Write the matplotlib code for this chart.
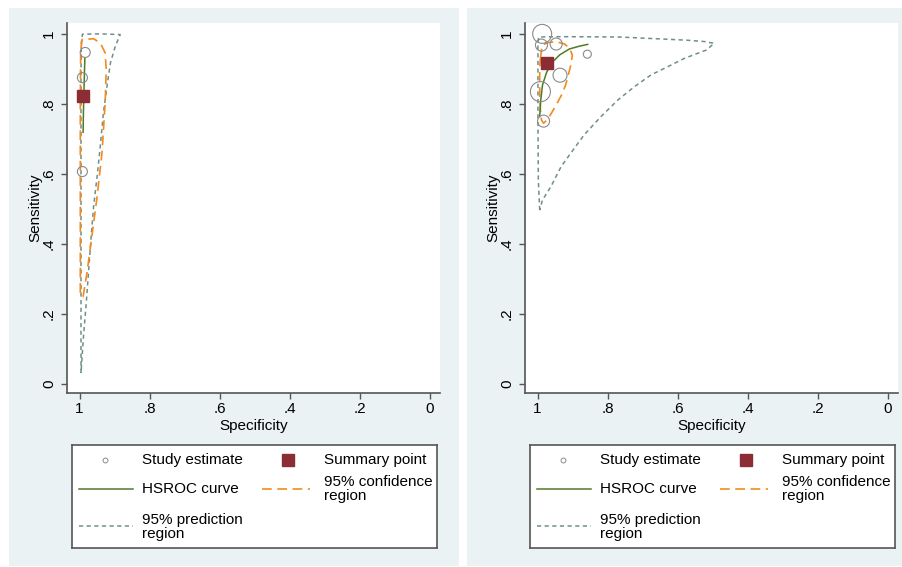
import matplotlib
matplotlib.use('Agg')
import matplotlib.pyplot as plt
from matplotlib.patches import Rectangle

plt.rcParams['font.family'] = ['Liberation Sans', 'DejaVu Sans']
plt.rcParams['font.size'] = 11
plt.rcParams['lines.scale_dashes'] = False

# ---- left panel data (specificity, sensitivity) ----
l_study_spec = [0.984, 0.992, 0.992]
l_study_sens = [0.946, 0.874, 0.606]
l_study_w = [1.0, 1.0, 1.0]
l_sum_spec, l_sum_sens = 0.989, 0.821
l_hsroc_spec = [0.985, 0.987, 0.989, 0.990]
l_hsroc_sens = [0.929, 0.860, 0.780, 0.718]
l_conf_spec = [0.998, 0.998, 0.998, 0.997, 0.993, 0.960, 0.941, 0.927, 0.924, 0.927,
               0.936, 0.950, 0.965, 0.979, 0.990, 0.998]
l_conf_sens = [0.260, 0.500, 0.800, 0.950, 0.983, 0.985, 0.973, 0.945, 0.897, 0.803,
               0.660, 0.535, 0.421, 0.317, 0.249, 0.260]
l_pred_spec = [0.996, 0.996, 0.996, 0.996, 0.995, 0.992, 0.940, 0.884, 0.898, 0.912,
               0.922, 0.932, 0.941, 0.950, 0.960, 0.967, 0.974, 0.981, 0.989, 0.996]
l_pred_sens = [0.031, 0.300, 0.600, 0.900, 0.975, 0.998, 0.999, 0.997, 0.964, 0.916,
               0.849, 0.774, 0.678, 0.592, 0.507, 0.421, 0.326, 0.231, 0.135, 0.031]

# ---- right panel data ----
r_study_spec = [0.987, 0.989, 0.947, 0.858, 0.936, 0.992, 0.983]
r_study_sens = [0.999, 0.967, 0.970, 0.941, 0.881, 0.834, 0.750]
r_study_w = [3.6, 1.44, 1.44, 0.64, 1.96, 4.0, 1.44]
r_sum_spec, r_sum_sens = 0.972, 0.915
r_hsroc_spec = [0.994, 0.991, 0.986, 0.974, 0.957, 0.937, 0.909, 0.880, 0.857]
r_hsroc_sens = [0.763, 0.810, 0.853, 0.890, 0.919, 0.939, 0.956, 0.964, 0.969]
r_conf_spec = [0.992, 0.987, 0.971, 0.947, 0.923, 0.909, 0.901, 0.904, 0.911, 0.920,
               0.932, 0.947, 0.961, 0.973, 0.983, 0.989, 0.992, 0.994, 0.994, 0.994,
               0.992]
r_conf_sens = [0.929, 0.967, 0.974, 0.977, 0.970, 0.958, 0.939, 0.915, 0.887, 0.853,
               0.824, 0.796, 0.772, 0.753, 0.744, 0.753, 0.782, 0.820, 0.867, 0.905,
               0.929]
r_pred_spec = [0.994, 0.998, 0.999, 0.999, 0.999, 0.997, 0.937, 0.766, 0.575, 0.523,
               0.496, 0.518, 0.581, 0.629, 0.676, 0.724, 0.771, 0.819, 0.867, 0.905,
               0.933, 0.962, 0.986, 0.994]
r_pred_sens = [0.496, 0.582, 0.753, 0.924, 0.975, 0.990, 0.991, 0.990, 0.981, 0.977,
               0.972, 0.953, 0.929, 0.905, 0.882, 0.848, 0.810, 0.763, 0.711, 0.659,
               0.620, 0.563, 0.525, 0.496]

ticks = [1, 0.8, 0.6, 0.4, 0.2, 0]
tick_labels = ['1', '.8', '.6', '.4', '.2', '0']

W, H = 903, 567
bg = '#eaf2f3'
green = '#4f7a28'
orange = '#f28a1c'
predc = '#6f8f88'
maroon = '#8c2d36'
grey = '#8a8a8a'
axc = '#555555'

fig = plt.figure(figsize=(W / 100, H / 100), dpi=100)
fig.patch.set_facecolor('white')

for x0, x1 in [(9, 459), (467, 903)]:
    fig.patches.append(Rectangle((x0 / W, 1 - 566 / H), (x1 - x0) / W, 558 / H,
                                 transform=fig.transFigure, facecolor=bg,
                                 edgecolor='none', zorder=-10))

panels = [
    (67, 72, l_study_spec, l_study_sens, l_study_w, l_sum_spec, l_sum_sens,
     l_hsroc_spec, l_hsroc_sens, l_conf_spec, l_conf_sens, l_pred_spec, l_pred_sens),
    (525, 530, r_study_spec, r_study_sens, r_study_w, r_sum_spec, r_sum_sens,
     r_hsroc_spec, r_hsroc_sens, r_conf_spec, r_conf_sens, r_pred_spec, r_pred_sens),
]

for (ax_x, leg_x, sx, sy, sw, mx, my, hx, hy, cx, cy, px, py) in panels:
    ax = fig.add_axes([ax_x / W, 1 - 393 / H, 373 / W, 370 / H])
    ax.set_facecolor('white')
    ax.plot(px, py, color=predc, lw=1.1, dashes=(3, 2.5))
    ax.plot(cx, cy, color=orange, lw=1.2, dashes=(7, 4))
    ax.plot(hx, hy, color=green, lw=1.1)
    ax.scatter(sx, sy, s=[w * 52 for w in sw], facecolors='none',
               edgecolors=grey, linewidths=0.8, zorder=3)
    ax.plot([mx], [my], 's', ms=8, color=maroon, zorder=4)
    ax.set_xlim(1.036, -0.029)
    ax.set_ylim(-0.026, 1.03)
    ax.set_xticks(ticks)
    ax.set_xticklabels(tick_labels)
    ax.set_yticks(ticks)
    ax.set_yticklabels(tick_labels, rotation=90, va='center')
    ax.spines['top'].set_visible(False)
    ax.spines['right'].set_visible(False)
    for s in ['left', 'bottom']:
        ax.spines[s].set_color(axc)
        ax.spines[s].set_linewidth(1.2)
    ax.tick_params(axis='both', direction='out', length=4.5, width=1, color=axc,
                   labelsize=11)
    ax.tick_params(axis='y', pad=3.5)
    ax.tick_params(axis='x', pad=2)
    fig.text((ax_x - 32) / W, 1 - 208 / H, 'Sensitivity', rotation=90,
             ha='center', va='center', fontsize=11)
    fig.text((ax_x + 186.5) / W, 1 - 426 / H, 'Specificity',
             ha='center', va='center', fontsize=11)

    # legend box
    lax = fig.add_axes([leg_x / W, 1 - 548 / H, 365 / W, 103 / H])
    lax.set_xlim(0, 365)
    lax.set_ylim(103, 0)
    lax.set_xticks([])
    lax.set_yticks([])
    for s in lax.spines.values():
        s.set_color(axc)
        s.set_linewidth(1.2)
    lax.plot([33], [15], 'o', ms=3.5, mfc='none', mec=grey, mew=0.7)
    lax.plot([7, 61], [44, 44], color=green, lw=1.1)
    lax.plot([7, 61], [81, 81], color=predc, lw=1.1, dashes=(3, 2.5))
    lax.plot([216], [15], 's', ms=8, color=maroon)
    lax.plot([190, 238], [44, 44], color=orange, lw=1.2, dashes=(7, 4))
    lax.text(70, 15, 'Study estimate', va='center', fontsize=11)
    lax.text(70, 44, 'HSROC curve', va='center', fontsize=11)
    lax.text(70, 82, '95% prediction\nregion', va='center', fontsize=11, linespacing=1.05)
    lax.text(252, 15, 'Summary point', va='center', fontsize=11)
    lax.text(252, 44, '95% confidence\nregion', va='center', fontsize=11, linespacing=1.05)

fig.savefig('out.png', dpi=100)
